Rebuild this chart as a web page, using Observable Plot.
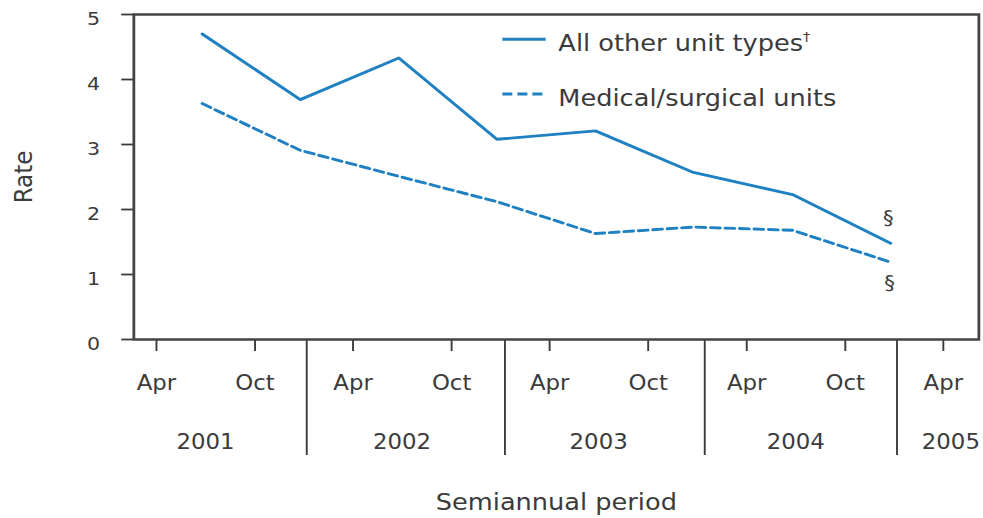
<!DOCTYPE html>
<html>
<head>
<meta charset="utf-8">
<script src="https://cdn.jsdelivr.net/npm/d3@7"></script>
<script src="https://cdn.jsdelivr.net/npm/@observablehq/plot@0.6"></script>
<style>
  html, body { margin: 0; padding: 0; background: #fff; overflow: hidden; }
  #chart { width: 983px; height: 518px; overflow: hidden; }
</style>
</head>
<body>
<div id="chart"></div>
<script>
// ---- data ----
const periodDates = ["2001-06-25", "2001-12-24", "2002-06-25", "2002-12-24",
                     "2003-06-25", "2003-12-24", "2004-06-25", "2004-12-24"];
const allOtherRates = [4.70, 3.69, 4.33, 3.08, 3.21, 2.57, 2.23, 1.48];
const medSurgRates  = [3.63, 2.91, 2.51, 2.12, 1.63, 1.73, 1.68, 1.19];
const seriesNames = ["All other unit types", "Medical/surgical units"];
const legendMarks = ["\u2020", ""];
const footnoteMark = "\u00a7";
const yTicks = [0, 1, 2, 3, 4, 5];
const monthTicks = ["2001-04-01", "2001-10-01", "2002-04-01", "2002-10-01", "2003-04-01",
                    "2003-10-01", "2004-04-01", "2004-10-01", "2005-04-01"];
const yearBoundaries = ["2002-01-05", "2003-01-08", "2004-01-14", "2005-01-05"];
const yearLabelDates = ["2001-07-01", "2002-07-01", "2003-07-01", "2004-07-01", "2005-04-15"];
const yearLabels = ["2001", "2002", "2003", "2004", "2005"];
const xLabel = "Semiannual period";
const yLabel = "Rate";

// ---- build ----
const parse = d3.utcParse("%Y-%m-%d");
const allOther = periodDates.map((d, i) => ({date: parse(d), value: allOtherRates[i], series: seriesNames[0]}));
const medSurg = periodDates.map((d, i) => ({date: parse(d), value: medSurgRates[i], series: seriesNames[1]}));
const yearMap = new Map(yearLabelDates.map((d, i) => [+parse(d), yearLabels[i]]));

const W = 882, H = 518, S = 983 / W;
const BLUE = "#1f80c2";
const INK = "#3b3b3b";
const FONT = "'DejaVu Sans', sans-serif";

const chart = Plot.plot({
  width: W, height: H,
  marginTop: 14, marginBottom: 179, marginLeft: 119.6, marginRight: 4.2,
  style: {fontFamily: FONT, fontSize: "18px", color: INK, background: "#fff", overflow: "visible"},
  x: {type: "utc", domain: [parse("2001-02-18"), parse("2005-06-06")]},
  y: {domain: [0, 5]},
  marks: [
    Plot.axisY(yTicks, {anchor: "left", tickSize: 10.8, tickFormat: () => "", strokeWidth: 1.8,
      label: yLabel, labelAnchor: "center", labelOffset: 107.7, labelArrow: "none"}),
    Plot.axisY(yTicks, {anchor: "left", tickSize: 0, tickPadding: 30.3, dy: 4.5, fontSize: 18.5,
      tickFormat: d3.format("d"), fill: INK, label: null}),
    Plot.axisX(monthTicks.map(parse), {anchor: "bottom", tickSize: 12, tickPadding: 24.4,
      tickFormat: d3.utcFormat("%b"), fontSize: 20.5, strokeWidth: 1.7, fill: INK,
      label: xLabel, labelAnchor: "center", labelOffset: 170.3, labelArrow: "none"}),
    Plot.axisX(yearBoundaries.map(parse), {anchor: "bottom", tickSize: 116, tickFormat: () => "", strokeWidth: 1.7, label: null}),
    Plot.axisX(yearLabelDates.map(parse), {anchor: "bottom", tickSize: 0, tickPadding: 94.7,
      tickFormat: d => yearMap.get(+d), fontSize: 20.5, fill: INK, label: null}),
    Plot.frame({stroke: "#444", strokeWidth: 2.5}),
    Plot.line(allOther, {x: "date", y: "value", stroke: BLUE, strokeWidth: 2.9}),
    Plot.line(medSurg, {x: "date", y: "value", stroke: BLUE, strokeWidth: 2.9, strokeDasharray: "8.5,4.5"}),
    Plot.text(allOther, Plot.selectLast({x: "date", y: "value", text: () => footnoteMark, dy: -25, dx: -2, fontSize: 19, fill: INK})),
    Plot.text(medSurg, Plot.selectLast({x: "date", y: "value", text: () => footnoteMark, dy: 21, dx: -1, fontSize: 19, fill: INK}))
  ]
});

const svg = d3.select(chart);
svg.selectAll('g[aria-label="y-axis label"], g[aria-label="x-axis label"]').attr("font-size", 23);

// legend (inside plot area, top right)
const lg = svg.append("g").attr("font-family", FONT).attr("font-size", 23).attr("fill", INK)
  .attr("text-anchor", "start");
[{dash: null, ly: 39.3, by: 51}, {dash: "9,4.5", ly: 94, by: 106}].forEach((it, i) => {
  const ln = lg.append("line").attr("x1", 450.7).attr("x2", 489.6).attr("y1", it.ly).attr("y2", it.ly)
    .attr("stroke", BLUE).attr("stroke-width", 3);
  if (it.dash) ln.attr("stroke-dasharray", it.dash);
  const t = lg.append("text").attr("x", 501).attr("y", it.by).attr("text-anchor", "start").text(seriesNames[i]);
  if (legendMarks[i]) t.append("tspan").attr("font-size", 13).attr("dy", -10).text(legendMarks[i]);
});

chart.style.transformOrigin = "0 0";
chart.style.transform = `scaleX(${S})`;
document.getElementById("chart").append(chart);
</script>
</body>
</html>
